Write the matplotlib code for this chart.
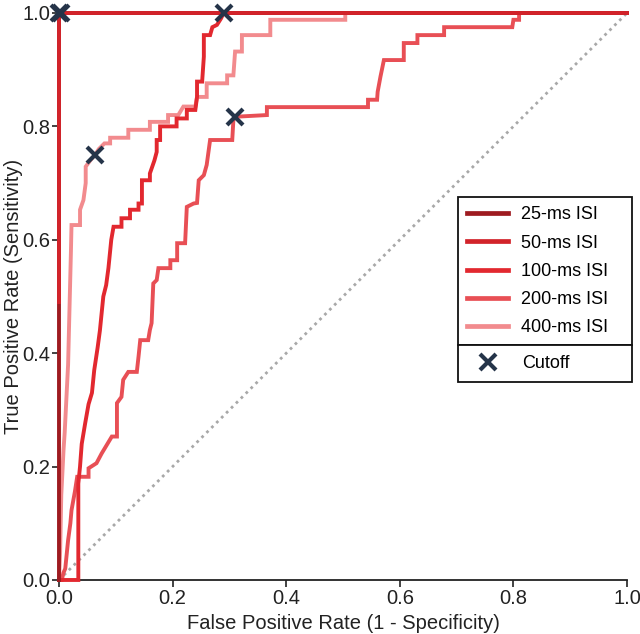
import matplotlib
matplotlib.use("Agg")
import matplotlib.pyplot as plt
from matplotlib.lines import Line2D

plt.rcParams['font.family'] = ['Liberation Sans', 'DejaVu Sans']

labels = ["25-ms ISI", "50-ms ISI", "100-ms ISI", "200-ms ISI", "400-ms ISI"]
colors = ["#9e1b20", "#d2232a", "#e2282f", "#e84f55", "#f28b8e"]

fpr_25 = [0, 0, 1]
tpr_25 = [0, 1, 1]

fpr_50 = [0, 0, 1]
tpr_50 = [0.49, 1, 1]

fpr_100 = [0, 0.034, 0.034, 0.037, 0.040, 0.046, 0.052, 0.058, 0.062, 0.068, 0.072, 0.075,
           0.078, 0.083, 0.087, 0.092, 0.096, 0.11, 0.11, 0.125, 0.125, 0.14, 0.14, 0.146,
           0.146, 0.16, 0.16, 0.168, 0.172, 0.172, 0.178, 0.178, 0.207, 0.207, 0.225, 0.225,
           0.24, 0.243, 0.243, 0.252, 0.255, 0.255, 0.266, 0.27, 0.278, 0.285, 0.29, 1]
tpr_100 = [0, 0, 0.17, 0.2, 0.24, 0.276, 0.31, 0.33, 0.37, 0.41, 0.44, 0.47,
           0.5, 0.52, 0.55, 0.6, 0.623, 0.623, 0.638, 0.638, 0.653, 0.653, 0.664, 0.664,
           0.705, 0.705, 0.717, 0.74, 0.755, 0.776, 0.776, 0.8, 0.8, 0.814, 0.814, 0.829,
           0.829, 0.852, 0.879, 0.879, 0.923, 0.961, 0.961, 0.975, 0.979, 0.99, 1.0, 1.0]

fpr_200 = [0, 0.005, 0.0076, 0.011, 0.016, 0.02, 0.022, 0.028, 0.032, 0.052, 0.052, 0.066,
           0.075, 0.084, 0.093, 0.102, 0.102, 0.11, 0.113, 0.122, 0.137, 0.14, 0.143, 0.157,
           0.16, 0.163, 0.166, 0.172, 0.175, 0.196, 0.196, 0.208, 0.208, 0.222, 0.225, 0.237,
           0.243, 0.246, 0.255, 0.26, 0.266, 0.305, 0.307, 0.31, 0.366, 0.366, 0.544, 0.544,
           0.56, 0.561, 0.566, 0.572, 0.607, 0.607, 0.631, 0.631, 0.678, 0.678, 0.798, 0.8,
           0.81, 0.81, 1]
tpr_200 = [0, 0, 0.012, 0.02, 0.07, 0.1, 0.123, 0.156, 0.182, 0.182, 0.197, 0.206,
           0.223, 0.238, 0.253, 0.253, 0.312, 0.323, 0.353, 0.367, 0.367, 0.394, 0.423, 0.423,
           0.441, 0.453, 0.523, 0.529, 0.55, 0.55, 0.564, 0.564, 0.594, 0.594, 0.658, 0.664,
           0.665, 0.705, 0.714, 0.732, 0.776, 0.776, 0.811, 0.817, 0.82, 0.834, 0.834, 0.847,
           0.847, 0.861, 0.888, 0.917, 0.917, 0.947, 0.947, 0.961, 0.961, 0.975, 0.975, 0.988,
           0.988, 1.0, 1.0]

fpr_400 = [0, 0.002, 0.003, 0.004, 0.006, 0.008, 0.010, 0.013, 0.016, 0.017, 0.019, 0.020,
           0.021, 0.022, 0.037, 0.037, 0.043, 0.047, 0.047, 0.055, 0.0635, 0.07, 0.08, 0.09,
           0.09, 0.122, 0.122, 0.16, 0.16, 0.192, 0.192, 0.21, 0.219, 0.24, 0.243, 0.26,
           0.26, 0.296, 0.296, 0.307, 0.31, 0.322, 0.322, 0.372, 0.372, 0.504, 0.504, 1]
tpr_400 = [0, 0.05, 0.1, 0.15, 0.19, 0.23, 0.26, 0.32, 0.38, 0.42, 0.5, 0.54,
           0.58, 0.626, 0.626, 0.653, 0.67, 0.70, 0.729, 0.74, 0.75, 0.76, 0.77, 0.77,
           0.78, 0.78, 0.794, 0.794, 0.808, 0.808, 0.82, 0.82, 0.835, 0.835, 0.852, 0.852,
           0.876, 0.876, 0.89, 0.89, 0.932, 0.932, 0.961, 0.961, 0.988, 0.988, 1.0, 1.0]

cut_fpr = [0.0, 0.004, 0.29, 0.31, 0.0635]
cut_tpr = [1.0, 1.0, 1.0, 0.817, 0.75]

curves = [(fpr_25, tpr_25), (fpr_50, tpr_50), (fpr_100, tpr_100),
          (fpr_200, tpr_200), (fpr_400, tpr_400)]
draw_z = [4.0, 4.5, 3.5, 3.2, 3.0]

ticks = [0.0, 0.2, 0.4, 0.6, 0.8, 1.0]
tick_labels = ["0.0", "0.2", "0.4", "0.6", "0.8", "1.0"]

fig = plt.figure(figsize=(6.4, 6.34), dpi=100)
ax = fig.add_axes([0.0922, 0.0852, 0.8875, 0.8943])

ax.plot([0, 1], [0, 1], linestyle=(0, (1, 1.5)), color="#a8a8a8", lw=2.0, zorder=1, clip_on=False)

handles = []
for (fx, ty), c, lab, z in zip(curves, colors, labels, draw_z):
    ax.plot(fx, ty, color=c, lw=2.8, zorder=z, clip_on=False, solid_joinstyle='miter')
    handles.append(Line2D([0], [0], color=c, lw=3.4))

ax.plot(cut_fpr, cut_tpr, linestyle='none', marker='x', markersize=11, mew=3,
        color="#253449", zorder=6, clip_on=False)

ax.set_xlim(0, 1)
ax.set_ylim(0, 1)
ax.set_xticks(ticks)
ax.set_xticklabels(tick_labels)
ax.set_yticks(ticks)
ax.set_yticklabels(tick_labels)
ax.tick_params(axis='both', labelsize=14.5, direction='out', length=5, width=1.2, colors='#222222', pad=1.5)
for s in ['top', 'right']:
    ax.spines[s].set_visible(False)
for s in ['left', 'bottom']:
    ax.spines[s].set_linewidth(1.3)
    ax.spines[s].set_color('#222222')

ax.set_xlabel("False Positive Rate (1 - Specificity)", fontsize=14.5, color='#222222', labelpad=4)
ax.set_ylabel("True Positive Rate (Sensitivity)", fontsize=14.5, color='#222222', labelpad=-1)

sep = 0.414
x0, w = 0.702, 0.307
leg1 = ax.legend(handles, labels, loc='lower left', bbox_to_anchor=(x0, sep, w, 0.0), mode='expand',
                 fontsize=13, frameon=True, fancybox=False, edgecolor='#111111',
                 handlelength=2.3, labelspacing=0.62, borderpad=0.5, handletextpad=0.7,
                 borderaxespad=0)
leg1.get_frame().set_linewidth(1.3)
leg1.get_frame().set_alpha(1)
leg1.set_zorder(10)
ax.add_artist(leg1)

hx = Line2D([0], [0], linestyle='none', marker='x', markersize=11, mew=3, color="#253449")
leg2 = ax.legend([hx], ["Cutoff"], loc='upper left', bbox_to_anchor=(x0, sep, w, 0.0), mode='expand',
                 fontsize=13, frameon=True, fancybox=False, edgecolor='#111111',
                 handlelength=2.3, borderpad=0.55, handletextpad=0.7, borderaxespad=0)
leg2.get_frame().set_linewidth(1.3)
leg2.get_frame().set_alpha(1)
leg2.set_zorder(10)

fig.savefig("out.png", dpi=100)
